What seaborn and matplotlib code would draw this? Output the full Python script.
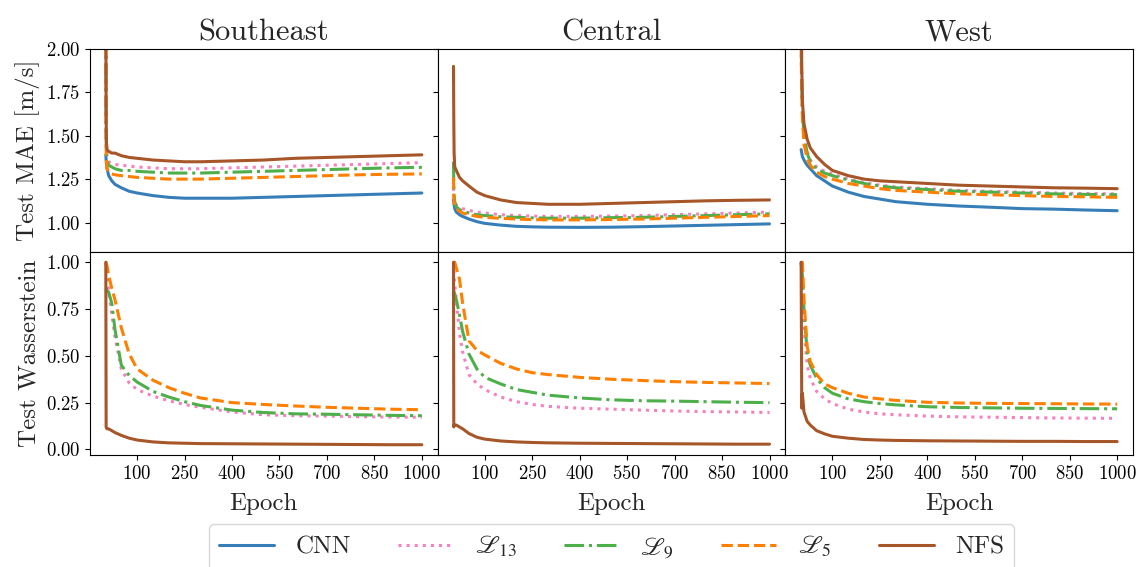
import matplotlib
matplotlib.use("Agg")
import matplotlib.pyplot as plt
import seaborn as sns
import pandas as pd
import numpy as np

epochs = [1, 2, 3, 5, 10, 20, 30, 50, 75, 100, 150, 200, 250, 300, 400, 500, 600, 700, 800, 900, 1000]

regions = ['Southeast', 'Central', 'West']
models = ['CNN', r'$\mathscr{L}_{13}$', r'$\mathscr{L}_{9}$', r'$\mathscr{L}_{5}$', 'NFS']
colors = ['#377eb8', '#f781bf', '#4daf4a', '#ff7f00', '#a65628']

# ---- Test MAE [m/s] ----
se_mae_cnn = [1.39, 1.36, 1.34, 1.31, 1.27, 1.24, 1.22, 1.20, 1.18, 1.17, 1.155, 1.145, 1.14, 1.14, 1.14, 1.145, 1.15, 1.155, 1.16, 1.165, 1.17]
se_mae_l13 = [2.10, 1.55, 1.42, 1.38, 1.35, 1.34, 1.335, 1.33, 1.325, 1.32, 1.315, 1.31, 1.31, 1.31, 1.315, 1.32, 1.325, 1.33, 1.335, 1.34, 1.345]
se_mae_l9 = [2.10, 1.50, 1.38, 1.35, 1.33, 1.32, 1.31, 1.30, 1.30, 1.295, 1.29, 1.285, 1.285, 1.285, 1.29, 1.295, 1.30, 1.305, 1.31, 1.315, 1.318]
se_mae_l5 = [2.20, 1.45, 1.35, 1.31, 1.29, 1.28, 1.275, 1.27, 1.265, 1.26, 1.255, 1.25, 1.25, 1.25, 1.255, 1.26, 1.265, 1.27, 1.275, 1.278, 1.28]
se_mae_nfs = [2.30, 1.60, 1.46, 1.42, 1.41, 1.40, 1.40, 1.385, 1.375, 1.37, 1.36, 1.355, 1.35, 1.35, 1.355, 1.36, 1.37, 1.375, 1.38, 1.385, 1.39]

ce_mae_cnn = [1.13, 1.12, 1.10, 1.08, 1.06, 1.045, 1.035, 1.02, 1.005, 0.995, 0.985, 0.978, 0.975, 0.973, 0.972, 0.973, 0.976, 0.98, 0.984, 0.988, 0.992]
ce_mae_l13 = [1.20, 1.17, 1.14, 1.12, 1.10, 1.09, 1.08, 1.07, 1.06, 1.055, 1.045, 1.04, 1.037, 1.035, 1.035, 1.037, 1.04, 1.045, 1.05, 1.055, 1.06]
ce_mae_l9 = [1.35, 1.22, 1.15, 1.12, 1.09, 1.075, 1.065, 1.055, 1.045, 1.04, 1.033, 1.03, 1.027, 1.025, 1.025, 1.028, 1.03, 1.035, 1.04, 1.045, 1.05]
ce_mae_l5 = [1.26, 1.16, 1.12, 1.10, 1.08, 1.065, 1.055, 1.045, 1.035, 1.03, 1.024, 1.02, 1.017, 1.015, 1.015, 1.017, 1.02, 1.025, 1.03, 1.035, 1.04]
ce_mae_nfs = [1.90, 1.60, 1.40, 1.32, 1.30, 1.26, 1.24, 1.21, 1.175, 1.155, 1.13, 1.115, 1.11, 1.105, 1.105, 1.11, 1.115, 1.12, 1.125, 1.128, 1.13]

we_mae_cnn = [1.42, 1.41, 1.40, 1.38, 1.36, 1.33, 1.31, 1.27, 1.24, 1.21, 1.175, 1.15, 1.135, 1.12, 1.105, 1.095, 1.088, 1.08, 1.077, 1.072, 1.068]
we_mae_l13 = [2.20, 1.90, 1.80, 1.66, 1.51, 1.41, 1.36, 1.32, 1.295, 1.28, 1.25, 1.23, 1.215, 1.205, 1.195, 1.185, 1.18, 1.175, 1.17, 1.167, 1.165]
we_mae_l9 = [2.20, 1.90, 1.80, 1.65, 1.50, 1.40, 1.35, 1.31, 1.285, 1.27, 1.245, 1.225, 1.21, 1.20, 1.19, 1.18, 1.175, 1.17, 1.165, 1.162, 1.16]
we_mae_l5 = [2.20, 1.85, 1.75, 1.60, 1.45, 1.37, 1.33, 1.29, 1.265, 1.25, 1.225, 1.21, 1.195, 1.185, 1.175, 1.165, 1.16, 1.155, 1.15, 1.148, 1.145]
we_mae_nfs = [2.30, 2.10, 1.90, 1.70, 1.57, 1.48, 1.43, 1.38, 1.335, 1.30, 1.27, 1.25, 1.24, 1.235, 1.225, 1.215, 1.21, 1.205, 1.20, 1.198, 1.195]

# ---- Test Wasserstein (no CNN curve) ----
se_w_l13 = [1.0, 0.98, 0.96, 0.93, 0.85, 0.72, 0.60, 0.43, 0.355, 0.32, 0.285, 0.26, 0.24, 0.225, 0.20, 0.185, 0.18, 0.178, 0.175, 0.173, 0.172]
se_w_l9 = [0.86, 0.86, 0.85, 0.85, 0.84, 0.78, 0.64, 0.45, 0.395, 0.36, 0.31, 0.28, 0.255, 0.235, 0.21, 0.197, 0.19, 0.188, 0.185, 0.182, 0.18]
se_w_l5 = [1.0, 1.0, 0.99, 0.98, 0.93, 0.86, 0.80, 0.65, 0.51, 0.43, 0.37, 0.33, 0.30, 0.275, 0.25, 0.24, 0.232, 0.225, 0.22, 0.215, 0.212]
se_w_nfs = [1.0, 0.12, 0.115, 0.11, 0.11, 0.10, 0.09, 0.075, 0.06, 0.05, 0.04, 0.035, 0.033, 0.031, 0.03, 0.029, 0.028, 0.027, 0.026, 0.025, 0.025]

ce_w_l13 = [1.0, 0.97, 0.93, 0.88, 0.80, 0.62, 0.52, 0.40, 0.35, 0.32, 0.28, 0.255, 0.24, 0.23, 0.22, 0.215, 0.21, 0.205, 0.202, 0.20, 0.197]
ce_w_l9 = [0.85, 0.85, 0.84, 0.83, 0.80, 0.72, 0.63, 0.51, 0.43, 0.385, 0.35, 0.32, 0.305, 0.29, 0.275, 0.265, 0.26, 0.258, 0.255, 0.252, 0.25]
ce_w_l5 = [1.0, 1.0, 1.0, 1.0, 0.97, 0.91, 0.78, 0.58, 0.53, 0.505, 0.46, 0.43, 0.41, 0.40, 0.385, 0.375, 0.368, 0.362, 0.358, 0.355, 0.352]
ce_w_nfs = [1.0, 0.12, 0.13, 0.13, 0.13, 0.12, 0.11, 0.085, 0.065, 0.055, 0.045, 0.04, 0.037, 0.035, 0.033, 0.032, 0.031, 0.03, 0.029, 0.028, 0.028]

we_w_l13 = [1.0, 0.97, 0.93, 0.88, 0.65, 0.45, 0.38, 0.31, 0.27, 0.245, 0.215, 0.20, 0.19, 0.185, 0.178, 0.174, 0.172, 0.17, 0.168, 0.167, 0.166]
we_w_l9 = [1.0, 0.98, 0.96, 0.93, 0.75, 0.52, 0.45, 0.38, 0.33, 0.30, 0.27, 0.255, 0.245, 0.238, 0.228, 0.224, 0.222, 0.22, 0.219, 0.218, 0.217]
we_w_l5 = [1.0, 1.0, 1.0, 1.0, 0.80, 0.55, 0.47, 0.40, 0.35, 0.33, 0.30, 0.28, 0.27, 0.262, 0.252, 0.248, 0.246, 0.245, 0.244, 0.243, 0.242]
we_w_nfs = [1.0, 0.60, 0.22, 0.30, 0.20, 0.15, 0.13, 0.10, 0.083, 0.07, 0.06, 0.053, 0.05, 0.048, 0.046, 0.045, 0.044, 0.043, 0.043, 0.042, 0.042]

mae = {
    'Southeast': [se_mae_cnn, se_mae_l13, se_mae_l9, se_mae_l5, se_mae_nfs],
    'Central': [ce_mae_cnn, ce_mae_l13, ce_mae_l9, ce_mae_l5, ce_mae_nfs],
    'West': [we_mae_cnn, we_mae_l13, we_mae_l9, we_mae_l5, we_mae_nfs],
}
wass = {
    'Southeast': [None, se_w_l13, se_w_l9, se_w_l5, se_w_nfs],
    'Central': [None, ce_w_l13, ce_w_l9, ce_w_l5, ce_w_nfs],
    'West': [None, we_w_l13, we_w_l9, we_w_l5, we_w_nfs],
}

rows = []
for metric, table in [('MAE', mae), ('W', wass)]:
    for reg in regions:
        for m, vals in zip(models, table[reg]):
            if vals is None:
                continue
            for e, v in zip(epochs, vals):
                rows.append((metric, reg, m, e, v))
df = pd.DataFrame(rows, columns=['Metric', 'Region', 'Model', 'Epoch', 'Value'])

sns.set_style("ticks")
plt.rcParams['font.family'] = 'serif'
plt.rcParams['font.serif'] = ['cmr10']
plt.rcParams['mathtext.fontset'] = 'cm'
plt.rcParams['axes.formatter.use_mathtext'] = True
plt.rcParams['axes.unicode_minus'] = False

palette = dict(zip(models, colors))
dashes = dict(zip(models, ['', (1, 1.65), (6.4, 1.6, 1, 1.6), (3.7, 1.6), '']))

fig, axes = plt.subplots(2, 3, figsize=(11.45, 5.67), dpi=100, sharex=True, sharey='row')
fig.subplots_adjust(left=0.0786, right=0.9895, top=0.9136, bottom=0.1975, wspace=0, hspace=0)

for j, reg in enumerate(regions):
    for i, metric in enumerate(['MAE', 'W']):
        ax = axes[i, j]
        sub = df[(df.Metric == metric) & (df.Region == reg)]
        sns.lineplot(data=sub, x='Epoch', y='Value', hue='Model', style='Model',
                     hue_order=models, style_order=models, palette=palette,
                     dashes=dashes, linewidth=2.2, ax=ax,
                     legend=(i == 0 and j == 0))
        ax.set_xlabel('')
        ax.set_ylabel('')
        for s in ax.spines.values():
            s.set_visible(True)
            s.set_color('black')
        ax.tick_params(labelsize=13.5, colors='black')
    axes[0, j].set_title(reg, fontsize=22)
    axes[1, j].set_xlabel('Epoch', fontsize=18, labelpad=7)
    axes[0, j].tick_params(bottom=False)

axes[0, 0].set_ylim(0.83, 2.0)
axes[0, 0].set_yticks([1.0, 1.25, 1.5, 1.75, 2.0])
axes[1, 0].set_ylim(-0.03, 1.055)
axes[1, 0].set_yticks([0.0, 0.25, 0.5, 0.75, 1.0])
axes[1, 0].set_xlim(-49, 1050)
axes[1, 0].set_xticks(np.arange(100, 1001, 150))
axes[0, 0].set_ylabel('Test MAE [m/s]', fontsize=18)
axes[1, 0].set_ylabel('Test Wasserstein', fontsize=18)

handles, labels = axes[0, 0].get_legend_handles_labels()
axes[0, 0].get_legend().remove()
leg = fig.legend(handles, labels, loc='upper center', bbox_to_anchor=(0.534, 0.076),
                 ncol=5, fontsize=18, handlelength=2.2, handletextpad=0.85,
                 columnspacing=1.9, frameon=True, borderaxespad=0)
for t in leg.get_texts():
    t.set_math_fontfamily('stix')
for h in leg.get_lines():
    h.set_linewidth(2.2)

fig.savefig('out.png', dpi=100)
